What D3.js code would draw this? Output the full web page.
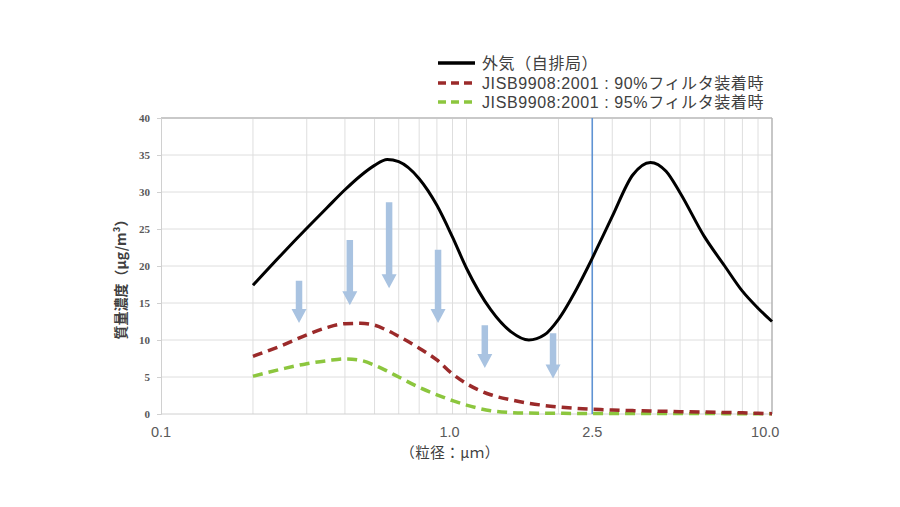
<!DOCTYPE html>
<html>
<head>
<meta charset="utf-8">
<script src="https://cdn.jsdelivr.net/npm/d3@7"></script>
<style>
  html, body { margin: 0; padding: 0; background: #fff; }
  svg { display: block; }
</style>
</head>
<body>
<svg id="chart" width="900" height="507"></svg>
<script>
// ---------------- data ----------------
const particleSizes = [0.2,0.25,0.3,0.35,0.4,0.45,0.5,0.55,0.6,0.7,0.8,0.9,1.0,1.2,1.4,1.6,1.8,2.0,2.3,2.5,2.8,3.0,3.5,4.0,4.5,5.0,6.0,7.0,8.0,9.0,10.0];
const outdoor   = [17.4,21.7,25.1,27.9,30.3,32.2,33.6,34.4,34.1,31.8,28.2,23.9,19.7,14.1,11.1,10.0,10.7,12.8,17.0,19.9,24.1,26.7,32.3,34.0,32.8,29.9,24.0,20.0,16.6,14.3,12.5];
const filter90  = [7.8,9.3,10.7,11.7,12.2,12.25,12.0,11.3,10.5,8.9,7.3,5.4,4.1,2.6,1.9,1.45,1.15,0.95,0.75,0.66,0.58,0.54,0.46,0.41,0.36,0.32,0.26,0.21,0.16,0.1,0.05];
const filter95  = [5.1,6.1,6.8,7.2,7.45,7.25,6.6,5.8,5.0,3.6,2.6,1.8,1.2,0.45,0.2,0.12,0.1,0.09,0.08,0.08,0.07,0.07,0.07,0.06,0.06,0.06,0.06,0.05,0.05,0.05,0.05];

const seriesNames = ["外気（自排局）", "JISB9908:2001 : 90%フィルタ装着時", "JISB9908:2001 : 95%フィルタ装着時"];

const yTicks = [0,5,10,15,20,25,30,35,40];
const xTickLabels  = ["0.1","1.0","2.5","10.0"];
const xTickAnchors = [0.1, 0.88, 2.58, 9.5];
const markerSize = 2.58;   // vertical PM2.5 marker line

const arrowSizes = [0.283, 0.415, 0.558, 0.807, 1.148, 1.92];
const arrowFrom  = [18.0, 23.5, 28.6, 22.2, 12.0, 10.9];
const arrowTo    = [12.3, 14.7, 17.0, 12.3, 6.2, 4.8];

const yTitle = "質量濃度（μg/m³）";
const xTitle = "（粒径：μｍ）";

// ---------------- layout ----------------
const svg = d3.select("#chart");
const L = 161, R = 772, T = 118, B = 414;
const x = d3.scaleLog().domain([0.1, 10]).range([L, R]);
const y = d3.scaleLinear().domain([0, 40]).range([B, T]);

const gridColor = "#dedede";

// vertical minor gridlines (2..9 per decade, and 1.0)
const vGrid = [];
[0.1, 1].forEach(d => { for (let k = 2; k <= 9; k++) vGrid.push(d * k); });
vGrid.push(1);
svg.append("g").selectAll("line").data(vGrid).join("line")
  .attr("x1", d => x(d)).attr("x2", d => x(d))
  .attr("y1", T).attr("y2", B)
  .attr("stroke", gridColor).attr("stroke-width", 1);

// horizontal gridlines
svg.append("g").selectAll("line").data(yTicks.filter(d => d > 0 && d < 40)).join("line")
  .attr("x1", L).attr("x2", R)
  .attr("y1", d => y(d)).attr("y2", d => y(d))
  .attr("stroke", gridColor).attr("stroke-width", 1);

// frame
svg.append("line").attr("x1", L).attr("x2", R).attr("y1", y(40)).attr("y2", y(40))
  .attr("stroke", "#c9c9c9").attr("stroke-width", 2);
svg.append("line").attr("x1", R).attr("x2", R).attr("y1", T).attr("y2", B)
  .attr("stroke", "#b5b5b5").attr("stroke-width", 1.5);

// y axis
const yAxis = d3.axisLeft(y).tickValues(yTicks).tickSize(4).tickPadding(7);
const gy = svg.append("g").attr("transform", `translate(${L},0)`).call(yAxis);
gy.select(".domain").attr("stroke", "#d0d0d0");
gy.selectAll(".tick line").attr("stroke", "#d0d0d0");
gy.selectAll(".tick text")
  .attr("font-family", "'Liberation Serif', 'DejaVu Serif', serif")
  .attr("font-size", 11).attr("font-weight", "bold").attr("fill", "#595959");

// x axis (baseline)
svg.append("line").attr("x1", L).attr("x2", R).attr("y1", B).attr("y2", B)
  .attr("stroke", "#d0d0d0").attr("stroke-width", 1);

// x tick labels
svg.append("g").selectAll("text").data(xTickLabels).join("text")
  .attr("x", (d, i) => x(xTickAnchors[i]))
  .attr("y", 437)
  .attr("text-anchor", "middle")
  .attr("font-family", "'Liberation Sans', Arial, sans-serif")
  .attr("font-size", 14.5).attr("fill", "#595959")
  .text(d => d);

// marker line
svg.append("line")
  .attr("x1", x(markerSize)).attr("x2", x(markerSize))
  .attr("y1", T).attr("y2", B)
  .attr("stroke", "#5f93d3").attr("stroke-width", 1.6);

// curves
const rows = particleSizes.map((s, i) => ({s, a: outdoor[i], b: filter90[i], c: filter95[i]}));
const lineGen = key => d3.line().x(d => x(d.s)).y(d => y(d[key])).curve(d3.curveMonotoneX);

svg.append("path").datum(rows).attr("d", lineGen("c"))
  .attr("fill", "none").attr("stroke", "#8cc63e").attr("stroke-width", 3.5)
  .attr("stroke-dasharray", "10,6");
svg.append("path").datum(rows).attr("d", lineGen("b"))
  .attr("fill", "none").attr("stroke", "#9b2a2a").attr("stroke-width", 3.5)
  .attr("stroke-dasharray", "10,6");
svg.append("path").datum(rows).attr("d", lineGen("a"))
  .attr("fill", "none").attr("stroke", "#000").attr("stroke-width", 3);

// arrows
const shaftW = 6.5, headW = 15, headL = 14;
svg.append("g").selectAll("path").data(arrowSizes).join("path")
  .attr("d", (d, i) => {
    const cx = x(d), y0 = y(arrowFrom[i]), y1 = y(arrowTo[i]);
    const hy = y1 - headL;
    return `M${cx - shaftW/2},${y0} L${cx + shaftW/2},${y0} L${cx + shaftW/2},${hy} L${cx + headW/2},${hy} L${cx},${y1} L${cx - headW/2},${hy} L${cx - shaftW/2},${hy} Z`;
  })
  .attr("fill", "#a9c3e1");

// y title
svg.append("text")
  .attr("transform", `translate(126,276) rotate(-90)`)
  .attr("text-anchor", "middle")
  .attr("font-family", "'Noto Sans CJK JP', sans-serif")
  .attr("font-size", 14).attr("font-weight", "bold").attr("fill", "#404040")
  .text(yTitle);

// x title
svg.append("text")
  .attr("x", 450).attr("y", 458)
  .attr("text-anchor", "middle")
  .attr("font-family", "'Noto Sans CJK JP', sans-serif")
  .attr("font-size", 14.5).attr("fill", "#404040")
  .attr("letter-spacing", 0.5)
  .text(xTitle);

// legend
const legendColors = ["#000", "#9b2a2a", "#8cc63e"];
const legendDash = [null, "8,5", "8,5"];
const legendY = [63, 83, 102];
const lg = svg.append("g");
seriesNames.forEach((name, i) => {
  lg.append("line").attr("x1", 438).attr("x2", 475).attr("y1", legendY[i]).attr("y2", legendY[i])
    .attr("stroke", legendColors[i]).attr("stroke-width", 3.5)
    .attr("stroke-dasharray", legendDash[i]);
  lg.append("text").attr("x", 482).attr("y", legendY[i]).attr("dy", "0.36em")
    .attr("font-family", "'Liberation Sans', 'Noto Sans CJK JP', sans-serif")
    .attr("font-size", 16).attr("fill", "#404040")
    .attr("letter-spacing", 0.6)
    .text(name);
});
</script>
</body>
</html>
